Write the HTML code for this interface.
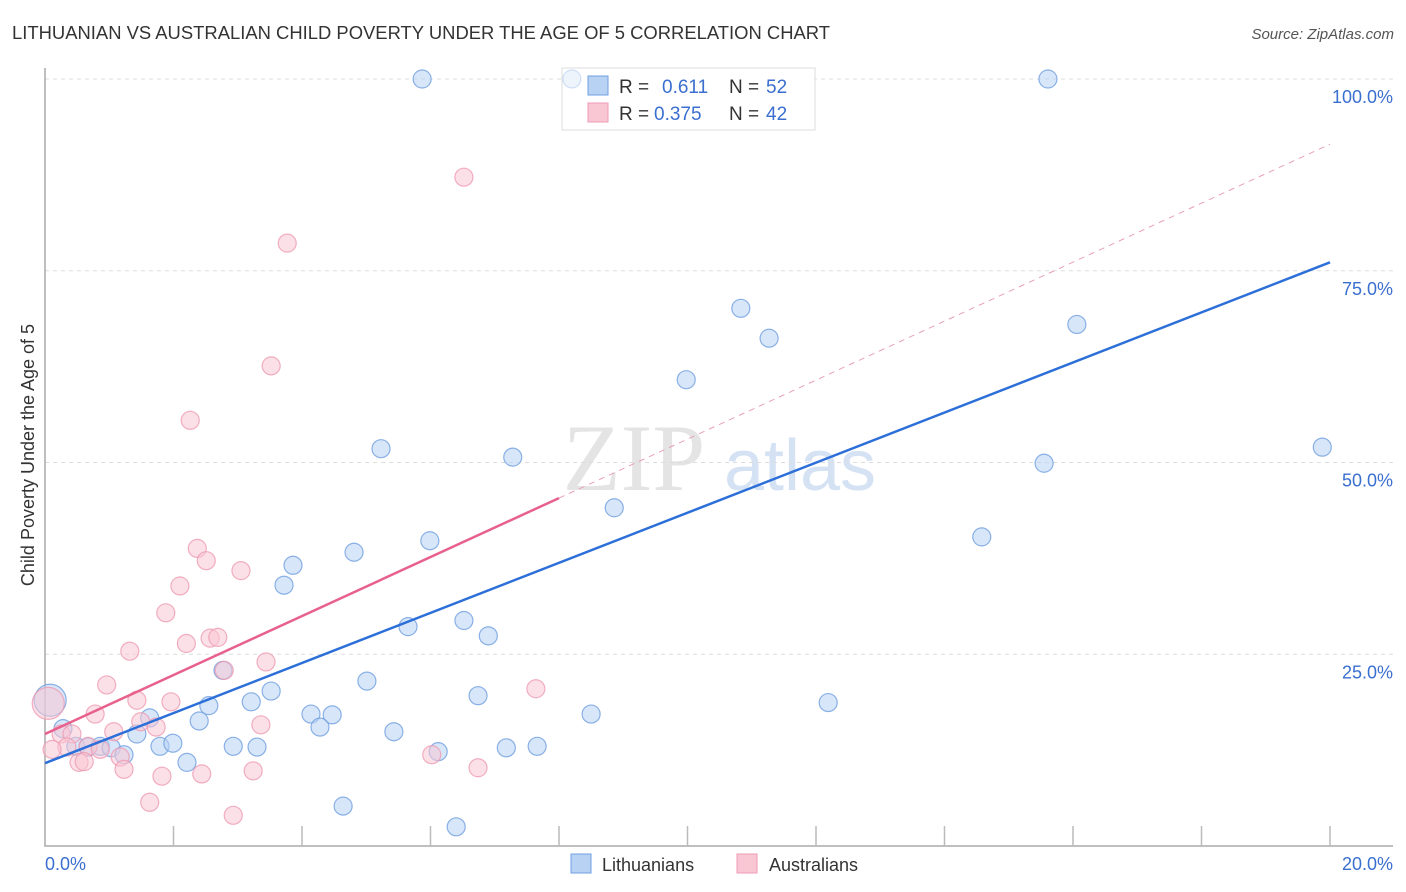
<!DOCTYPE html>
<html><head><meta charset="utf-8"><style>
body{margin:0;background:#fff;font-family:"Liberation Sans",sans-serif}
</style></head><body>
<svg id="c" width="1406" height="892" style="display:block">
<text x="12" y="39" font-size="18" fill="#333" textLength="818" lengthAdjust="spacingAndGlyphs">LITHUANIAN VS AUSTRALIAN CHILD POVERTY UNDER THE AGE OF 5 CORRELATION CHART</text>
<text x="1394" y="39" font-size="15" fill="#555" text-anchor="end" font-style="italic">Source: ZipAtlas.com</text>
<text x="634" y="490" font-size="95" fill="#e4e4e4" text-anchor="middle" font-family="Liberation Serif,serif">ZIP</text>
<text x="800" y="490" font-size="72" fill="#d4e2f4" text-anchor="middle">atlas</text>
<g id="grid"></g><g id="axes"></g>
<g>
<rect x="562" y="68" width="253" height="62" fill="#fff" stroke="#ddd"/>
<rect x="588" y="76" width="20" height="19" fill="#b8d2f4" stroke="#6f9fe0"/>
<rect x="588" y="103" width="20" height="19" fill="#f9c6d4" stroke="#ee9bb3"/>
<text x="619" y="93" font-size="19" fill="#333">R = </text><text x="662" y="93" font-size="19" fill="#3a6fd0">0.611</text>
<text x="729" y="93" font-size="19" fill="#333">N = </text><text x="766" y="93" font-size="19" fill="#3a6fd0">52</text>
<text x="619" y="120" font-size="19" fill="#333">R = </text><text x="654" y="120" font-size="19" fill="#3a6fd0">0.375</text>
<text x="729" y="120" font-size="19" fill="#333">N = </text><text x="766" y="120" font-size="19" fill="#3a6fd0">42</text>
</g>
<g id="pts"></g><g id="lines"></g>
<text transform="translate(34,455) rotate(-90)" font-size="18" fill="#333" text-anchor="middle">Child Poverty Under the Age of 5</text>
<text x="45" y="870" font-size="18" fill="#3a6fd0">0.0%</text>
<text x="1393" y="870" font-size="18" fill="#3a6fd0" text-anchor="end">20.0%</text>
<g>
<rect x="571" y="854" width="20" height="19" fill="#b8d2f4" stroke="#6f9fe0"/>
<text x="602" y="871" font-size="18" fill="#333">Lithuanians</text>
<rect x="737" y="854" width="20" height="19" fill="#f9c6d4" stroke="#ee9bb3"/>
<text x="769" y="871" font-size="18" fill="#333">Australians</text>
</g>
</svg>
<script>
const yTicks=[25,50,75,100];
const yTickLabels=["25.0%","50.0%","75.0%","100.0%"];
const xTicks=[2,4,6,8,10,12,14,16,18,20];
const blueX=[5.87,15.61,8.2,10.83,11.27,16.06,9.98,5.23,7.28,15.55,19.88,8.86,14.58,5.99,4.81,3.86,3.72,5.65,6.52,6.9,2.77,5.01,3.52,3.21,2.55,6.74,12.19,8.5,4.14,4.47,4.28,1.63,2.4,1.43,5.43,0.28,1.79,1.99,2.93,3.3,7.18,7.66,6.12,0.48,0.67,0.86,1.03,1.23,2.21,4.64,6.4,0.08];
const blueY=[100,100,100,70.1,66.2,68.0,60.8,51.8,50.7,49.9,52.0,44.1,40.3,39.8,38.3,36.6,34.0,28.6,29.4,27.4,22.9,21.5,20.2,18.8,18.3,19.6,18.7,17.2,17.2,17.1,15.5,16.7,16.3,14.6,14.9,15.3,13.0,13.4,13.0,12.9,12.8,13.0,12.3,13.0,12.9,13.0,12.8,11.9,10.9,5.2,2.5,19.0];
const pinkX=[6.52,3.77,3.52,2.26,2.37,2.51,3.05,2.1,1.88,2.2,2.57,2.69,1.32,3.44,2.79,0.96,7.64,1.43,1.96,0.78,3.36,1.49,1.73,1.07,0.25,0.42,0.34,0.11,0.67,0.86,1.17,0.53,0.61,6.02,6.74,1.23,1.82,2.44,3.24,1.63,2.93,0.05];
const pinkY=[87.2,78.6,62.6,55.5,38.8,37.2,35.9,33.9,30.4,26.4,27.1,27.2,25.4,24.0,22.9,21.0,20.5,19.0,18.8,17.2,15.8,16.2,15.5,14.9,14.6,14.6,12.9,12.6,13.0,12.6,11.6,10.9,11.0,11.9,10.2,10.0,9.1,9.4,9.8,5.7,4.0,18.6];
const blueFit=[10.8,76.1];
const pinkFit=[14.6,91.5];
const pinkSolidEnd=8;
const NS="http://www.w3.org/2000/svg";
const X=v=>45+v*64.25, Y=v=>846-v*7.67;
function mk(t,a,p){const e=document.createElementNS(NS,t);for(const k in a)e.setAttribute(k,a[k]);p.appendChild(e);return e;}
const grid=document.getElementById('grid'),axes=document.getElementById('axes'),pts=document.getElementById('pts'),lines=document.getElementById('lines');
yTicks.forEach((v,i)=>{
 const l=mk('line',{x1:45,x2:1393,y1:Y(v),y2:Y(v),stroke:'#ddd','stroke-dasharray':'4,4'},grid);
 
 
 const t=mk('text',{x:1393,y:Y(v)+24,'font-size':18,fill:'#3a6fd0','text-anchor':'end'},grid);
 t.textContent=yTickLabels[i];
 
 
});
const ax=mk('path',{d:'M45,68 V846 H1393',fill:'none',stroke:'#aaa','stroke-width':1.5},axes);


xTicks.forEach(v=>{
 const t=mk('line',{x1:X(v),x2:X(v),y1:826,y2:846,stroke:'#bbb','stroke-width':1.5},axes);
 
 
});
function dots(xs,ys,fill,stroke,name){xs.forEach((x,i)=>{
 const big=i===xs.length-1;
 const faint=(name==='lithuanian-point'&&i===2);
 const c=mk('circle',{cx:X(x),cy:Y(ys[i]),r:big?16:9,fill:fill,'fill-opacity':faint?0.25:0.55,stroke:stroke,'stroke-opacity':faint?0.3:0.8,'stroke-width':1.2},pts);
 
 
});}
dots(blueX,blueY,'#b8d2f4','#6f9fe0','lithuanian-point');
dots(pinkX,pinkY,'#f9c6d4','#ee9bb3','australian-point');
const bl=mk('line',{x1:X(0),y1:Y(blueFit[0]),x2:X(20),y2:Y(blueFit[1]),stroke:'#2c6fd8','stroke-width':2.5},lines);


const pAt=v=>pinkFit[0]+(pinkFit[1]-pinkFit[0])*v/20;
const ps=mk('line',{x1:X(0),y1:Y(pinkFit[0]),x2:X(pinkSolidEnd),y2:Y(pAt(pinkSolidEnd)),stroke:'#e8608c','stroke-width':2.5},lines);


const pd=mk('line',{x1:X(pinkSolidEnd),y1:Y(pAt(pinkSolidEnd)),x2:X(20),y2:Y(pinkFit[1]),stroke:'#e8a0b8','stroke-width':1,'stroke-dasharray':'6,5'},lines);


</script>
</body></html>
